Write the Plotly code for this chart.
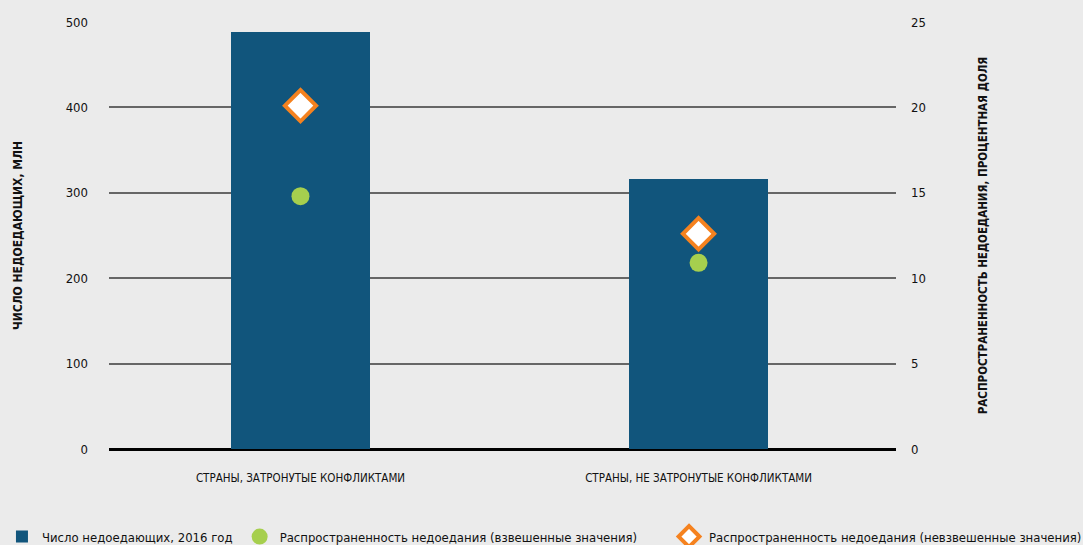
import plotly.graph_objects as go

categories = ["СТРАНЫ, ЗАТРОНУТЫЕ КОНФЛИКТАМИ", "СТРАНЫ, НЕ ЗАТРОНУТЫЕ КОНФЛИКТАМИ"]
undernourished_mln = [488, 316]
prevalence_weighted = [14.8, 10.9]
prevalence_unweighted = [20.1, 12.6]

FONT = "DejaVu Sans Condensed, Liberation Sans Narrow, sans-serif"

fig = go.Figure()
fig.add_trace(go.Bar(
    x=categories, y=undernourished_mln, name="Число недоедающих, 2016 год",
    marker=dict(color="#11557c", line=dict(width=0)), width=0.349, yaxis="y",
    legend="legend",
))
fig.add_trace(go.Scatter(
    x=categories, y=prevalence_weighted, mode="markers",
    name="Распространенность недоедания (взвешенные значения)",
    marker=dict(symbol="circle", size=18, color="#a6cf4e"), yaxis="y2",
    legend="legend2",
))
fig.add_trace(go.Scatter(
    x=categories, y=prevalence_unweighted, mode="markers",
    name="Распространенность недоедания (невзвешенные значения)",
    marker=dict(symbol="diamond", size=24, color="white",
                line=dict(color="#f5821f", width=4)), yaxis="y2",
    legend="legend3",
))

leg_common = dict(orientation="h", xanchor="left", y=-0.17, yanchor="top",
                  font=dict(size=13, family=FONT, color="#111111"), itemwidth=30,
                  bgcolor="rgba(0,0,0,0)")

fig.update_layout(
    width=1083, height=545,
    paper_bgcolor="#ebebeb", plot_bgcolor="#ebebeb",
    margin=dict(l=109, r=187, t=22, b=96, autoexpand=False),
    font=dict(family=FONT, color="#111111", size=12),
    showlegend=True,
    legend=dict(x=-0.136, **leg_common),
    legend2=dict(x=0.166, **leg_common),
    legend3=dict(x=0.7116, **leg_common),
    bargap=0,
    xaxis=dict(showgrid=False, showline=False, ticks="", zeroline=False,
               range=[-0.481, 1.496], ticklabelstandoff=20,
               tickfont=dict(size=11.5, family=FONT)),
    yaxis=dict(range=[0, 500], tickvals=[0, 100, 200, 300, 400, 500],
               showgrid=True, gridcolor="#666666", gridwidth=1.5,
               zeroline=True, zerolinecolor="#000000", zerolinewidth=2.5,
               showline=False, ticks="", ticklabelstandoff=20,
               tickfont=dict(size=13, family=FONT),
               title=dict(text="<b>ЧИСЛО НЕДОЕДАЮЩИХ, МЛН</b>", standoff=40,
                          font=dict(size=12, family=FONT))),
    yaxis2=dict(range=[0, 25], tickvals=[0, 5, 10, 15, 20, 25],
                overlaying="y", side="right", showgrid=False, zeroline=False,
                showline=False, ticks="", ticklabelstandoff=14,
                tickfont=dict(size=13, family=FONT),
                title=dict(text="<b>РАСПРОСТРАНЕННОСТЬ НЕДОЕДАНИЯ, ПРОЦЕНТНАЯ ДОЛЯ</b>",
                           standoff=54, font=dict(size=11.5, family=FONT))),
)

fig.write_html("out.html", config={"displayModeBar": False},
               post_script="document.body.style.margin='0';document.body.style.background='#ebebeb';")
